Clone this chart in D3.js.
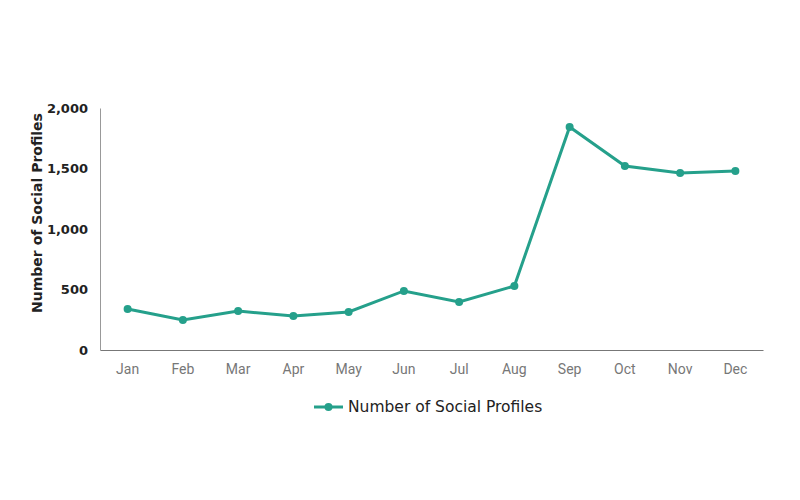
<!DOCTYPE html>
<html lang="en">
<head>
<meta charset="utf-8">
<title>Number of Social Profiles</title>
<script src="https://cdn.jsdelivr.net/npm/d3@7"></script>
<style>
  body { margin: 0; background: #fff; }
</style>
</head>
<body>
<script>
var months = ["Jan", "Feb", "Mar", "Apr", "May", "Jun", "Jul", "Aug", "Sep", "Oct", "Nov", "Dec"];
var profiles = [339, 248, 322, 281, 314, 488, 397, 529, 1843, 1521, 1463, 1479];
var yTicks = [0, 500, 1000, 1500, 2000];
var seriesName = "Number of Social Profiles";

var w = 800, h = 500;
var plotLeft = 100, plotRight = 763, plotTop = 108, plotBottom = 350;
var color = "#25a08b";

var svg = d3.select("body").append("svg")
  .attr("width", w)
  .attr("height", h);

var x = d3.scaleBand().domain(months).range([plotLeft, plotRight]);
var y = d3.scaleLinear().domain([0, 2000]).range([plotBottom, plotTop]);

// axes
var xAxis = svg.append("g")
  .attr("transform", "translate(0," + plotBottom + ")")
  .call(d3.axisBottom(x).tickSize(0).tickPadding(14).tickSizeOuter(0));
xAxis.select(".domain").attr("stroke", "#777");
xAxis.selectAll("text")
  .attr("font-family", "Roboto, sans-serif")
  .attr("font-size", "14px")
  .attr("fill", "#777");

var yAxis = svg.append("g")
  .attr("transform", "translate(" + plotLeft + ",0)")
  .call(d3.axisLeft(y).tickValues(yTicks).tickSize(0).tickPadding(12).tickSizeOuter(0)
    .tickFormat(d3.format(",")));
yAxis.select(".domain").attr("stroke", "#999");
yAxis.selectAll("text")
  .attr("font-family", "'DejaVu Sans', sans-serif")
  .attr("font-weight", "bold")
  .attr("font-size", "13px")
  .attr("fill", "#222");

svg.append("text")
  .attr("transform", "translate(42,213) rotate(-90)")
  .attr("text-anchor", "middle")
  .attr("font-family", "'DejaVu Sans', sans-serif")
  .attr("font-weight", "bold")
  .attr("font-size", "14px")
  .attr("fill", "#222")
  .text(seriesName);

// line
var line = d3.line()
  .x(function(d, i) { return x(months[i]) + x.bandwidth() / 2; })
  .y(function(d) { return y(d); });

svg.append("path")
  .datum(profiles)
  .attr("d", line)
  .attr("fill", "none")
  .attr("stroke", color)
  .attr("stroke-width", 3);

svg.selectAll("circle.pt")
  .data(profiles)
  .enter()
  .append("circle")
  .attr("class", "pt")
  .attr("cx", function(d, i) { return x(months[i]) + x.bandwidth() / 2; })
  .attr("cy", function(d) { return y(d); })
  .attr("r", 4)
  .attr("fill", color);

// legend
var lg = svg.append("g").attr("transform", "translate(314,407)");
lg.append("line").attr("x1", 0).attr("x2", 29).attr("y1", 0).attr("y2", 0)
  .attr("stroke", color).attr("stroke-width", 3);
lg.append("circle").attr("cx", 14.5).attr("cy", 0).attr("r", 4).attr("fill", color);
lg.append("text")
  .attr("x", 34)
  .attr("y", 5)
  .attr("font-family", "'DejaVu Sans', sans-serif")
  .attr("font-size", "15.5px")
  .attr("fill", "#222")
  .text(seriesName);
</script>
</body>
</html>
